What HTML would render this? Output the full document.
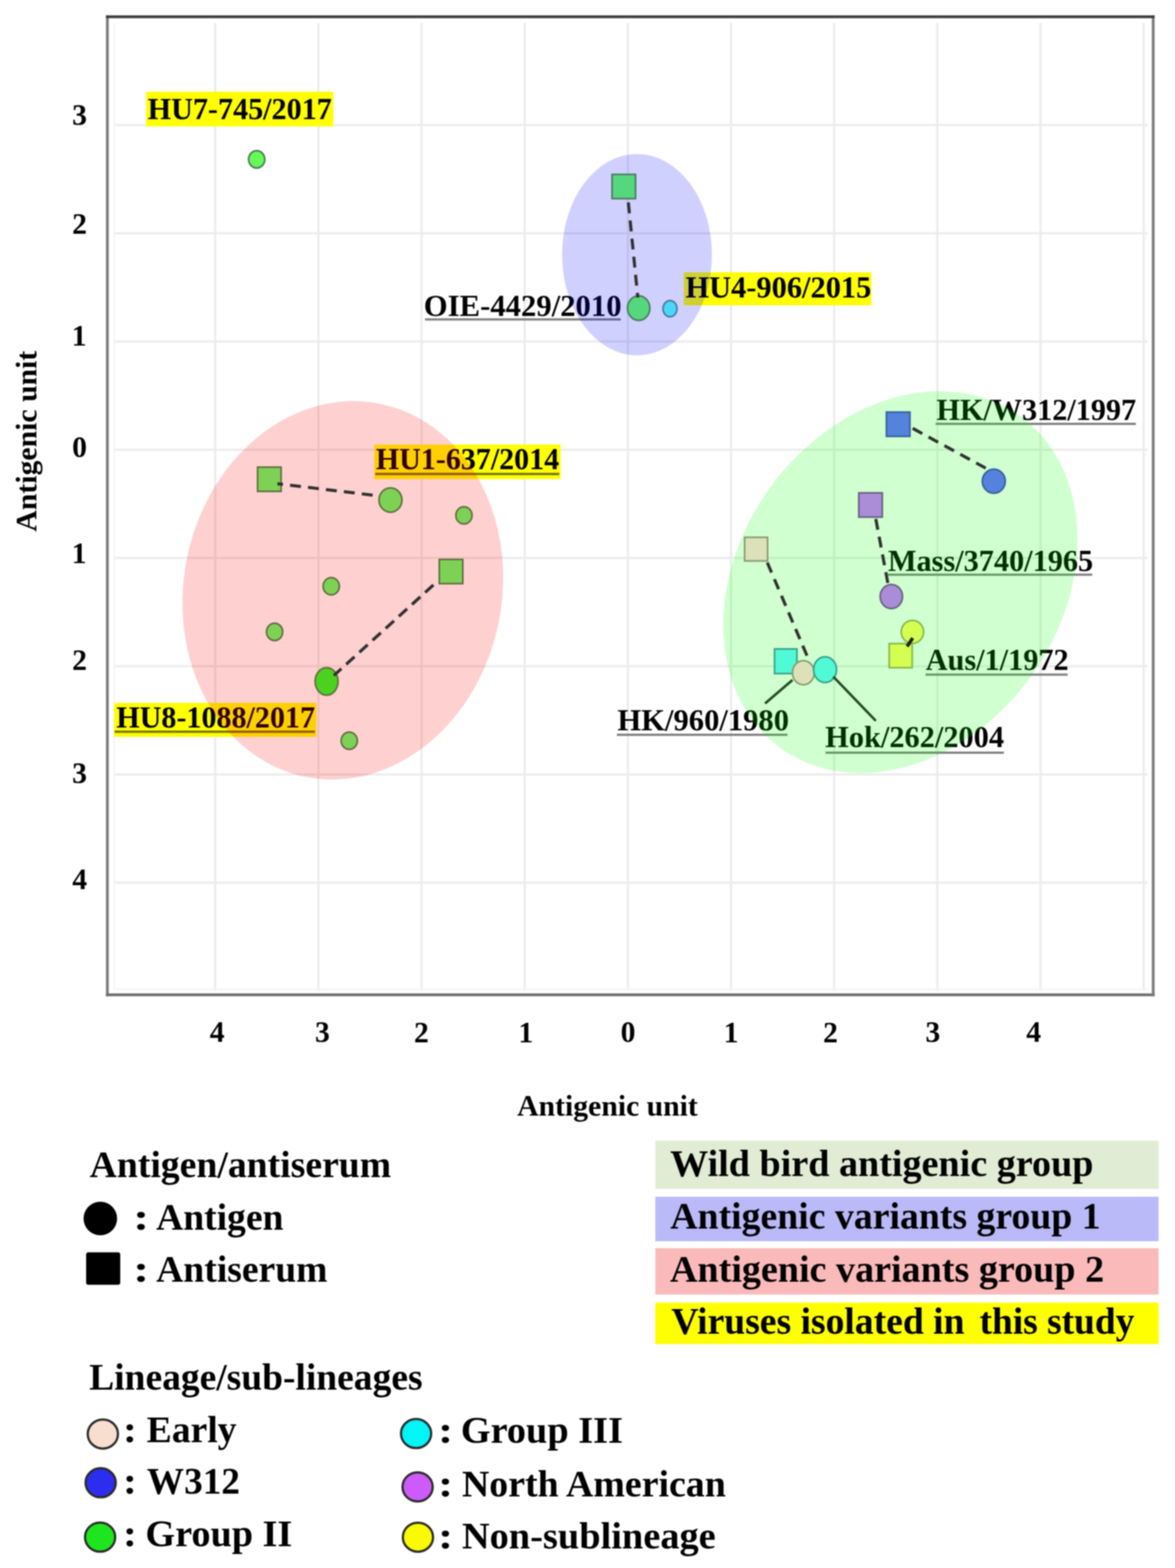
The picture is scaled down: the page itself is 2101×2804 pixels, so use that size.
<!DOCTYPE html>
<html><head><meta charset="utf-8"><title>Antigenic map</title>
<style>
html,body{margin:0;padding:0;background:#fff;}
svg{display:block;filter:blur(1px);}
text{font-family:"Liberation Serif","Times New Roman",serif;font-weight:bold;}
</style></head><body>
<svg width="2101" height="2804" viewBox="0 0 2101 2804">
<rect width="2101" height="2804" fill="#fff"/>
<g stroke="#ececec" stroke-width="4">
<line x1="384.8" y1="41" x2="384.8" y2="1772"/>
<line x1="569.3" y1="41" x2="569.3" y2="1772"/>
<line x1="753.7" y1="41" x2="753.7" y2="1772"/>
<line x1="938.2" y1="41" x2="938.2" y2="1772"/>
<line x1="1122.7" y1="41" x2="1122.7" y2="1772"/>
<line x1="1307.2" y1="41" x2="1307.2" y2="1772"/>
<line x1="1491.6" y1="41" x2="1491.6" y2="1772"/>
<line x1="1676.1" y1="41" x2="1676.1" y2="1772"/>
<line x1="1860.6" y1="41" x2="1860.6" y2="1772"/>
<line x1="2045.0" y1="41" x2="2045.0" y2="1772"/>
<line x1="203" y1="223.7" x2="2052" y2="223.7"/>
<line x1="203" y1="417.2" x2="2052" y2="417.2"/>
<line x1="203" y1="610.8" x2="2052" y2="610.8"/>
<line x1="203" y1="804.3" x2="2052" y2="804.3"/>
<line x1="203" y1="997.8" x2="2052" y2="997.8"/>
<line x1="203" y1="1191.3" x2="2052" y2="1191.3"/>
<line x1="203" y1="1384.9" x2="2052" y2="1384.9"/>
<line x1="203" y1="1578.4" x2="2052" y2="1578.4"/>
</g>
<g stroke="#f5f5f5" stroke-width="3">
<line x1="204.5" y1="41" x2="204.5" y2="1770"/>
<line x1="204" y1="1769" x2="2052" y2="1769"/>
</g>
<g stroke-width="5" fill="none" stroke-linecap="square">
<line x1="192" y1="30" x2="192" y2="1779" stroke="#7a7a7a"/>
<line x1="192" y1="1779" x2="2062" y2="1779" stroke="#6e6e6e"/>
<line x1="2062" y1="30" x2="2062" y2="1779" stroke="#7a7a7a"/>
<line x1="192" y1="30" x2="2062" y2="30" stroke="#3c3c3c"/>
</g>
<text x="129.0" y="223.3" font-size="53">3</text>
<text x="129.1" y="417.5" font-size="53">2</text>
<text x="128.3" y="617.5" font-size="53">1</text>
<text x="129.1" y="817.4" font-size="53">0</text>
<text x="128.3" y="1006.5" font-size="53">1</text>
<text x="129.1" y="1197.5" font-size="53">2</text>
<text x="129.0" y="1400.3" font-size="53">3</text>
<text x="129.2" y="1590.4" font-size="53">4</text>
<text x="375.1" y="1863.4" font-size="53">4</text>
<text x="563.3" y="1863.3" font-size="53">3</text>
<text x="740.3" y="1863.5" font-size="53">2</text>
<text x="927.0" y="1863.5" font-size="53">1</text>
<text x="1109.8" y="1863.4" font-size="53">0</text>
<text x="1294.0" y="1863.5" font-size="53">1</text>
<text x="1471.8" y="1863.5" font-size="53">2</text>
<text x="1654.7" y="1863.3" font-size="53">3</text>
<text x="1834.9" y="1863.4" font-size="53">4</text>
<text x="924.7" y="1995.4" font-size="53.5" textLength="323.1" lengthAdjust="spacingAndGlyphs" fill="#000" >Antigenic unit</text>
<g transform="translate(65.2,950.2) rotate(-90)">
<text x="-0.5" y="0.0" font-size="53.5" textLength="323.5" lengthAdjust="spacingAndGlyphs" fill="#000" >Antigenic unit</text>
</g>
<rect x="261.4" y="164" width="334.6" height="62.0" fill="#ffff00"/>
<text x="264.1" y="213.0" font-size="54" textLength="329.2" lengthAdjust="spacingAndGlyphs" fill="#000" >HU7-745/2017</text>
<rect x="1222.6" y="487" width="335.4" height="59.0" fill="#ffff00"/>
<text x="1225.7" y="532.0" font-size="54" textLength="332.3" lengthAdjust="spacingAndGlyphs" fill="#000" >HU4-906/2015</text>
<rect x="669.3" y="795" width="333.1" height="61.8" fill="#ffff00"/>
<rect x="671" y="845.6" width="329.0" height="4" fill="#707000"/>
<text x="672.1" y="839.2" font-size="54" textLength="327.7" lengthAdjust="spacingAndGlyphs" fill="#000" >HU1-637/2014</text>
<rect x="204" y="1256.9" width="361.4" height="60.8" fill="#ffff00"/>
<rect x="205" y="1306.5" width="358.0" height="4" fill="#707000"/>
<text x="207.9" y="1300.5" font-size="54" textLength="355.4" lengthAdjust="spacingAndGlyphs" fill="#000" >HU8-1088/2017</text>
<rect x="760" y="569.2" width="350.0" height="4" fill="#808080"/>
<text x="757.8" y="565.2" font-size="54" textLength="353.6" lengthAdjust="spacingAndGlyphs" fill="#000" >OIE-4429/2010</text>
<rect x="1673" y="756.0" width="358.0" height="4" fill="#808080"/>
<text x="1674.4" y="750.7" font-size="54" textLength="357.1" lengthAdjust="spacingAndGlyphs" fill="#000" >HK/W312/1997</text>
<rect x="1588" y="1025.7" width="365.0" height="4" fill="#808080"/>
<text x="1587.7" y="1021.0" font-size="54" textLength="367.0" lengthAdjust="spacingAndGlyphs" fill="#000" >Mass/3740/1965</text>
<rect x="1655" y="1204.4" width="254.0" height="4" fill="#808080"/>
<text x="1655.3" y="1197.7" font-size="54" textLength="255.5" lengthAdjust="spacingAndGlyphs" fill="#000" >Aus/1/1972</text>
<rect x="1103" y="1312.0" width="305.0" height="4" fill="#808080"/>
<text x="1104.0" y="1305.7" font-size="54" textLength="306.8" lengthAdjust="spacingAndGlyphs" fill="#000" >HK/960/1980</text>
<rect x="1476" y="1344.0" width="319.0" height="4" fill="#808080"/>
<text x="1475.6" y="1336.3" font-size="54" textLength="319.7" lengthAdjust="spacingAndGlyphs" fill="#000" >Hok/262/2004</text>
<ellipse cx="1139" cy="455.4" rx="134" ry="180" fill="#0000ff" fill-opacity="0.185"/>
<ellipse cx="0" cy="0" rx="340.2" ry="284.6" fill="#ff0000" fill-opacity="0.185" transform="translate(613,1055.7) rotate(-79.1)"/>
<ellipse cx="0" cy="0" rx="366" ry="288" fill="#00ff00" fill-opacity="0.185" transform="translate(1610,1041) rotate(-54.3)"/>
<ellipse cx="459" cy="285" rx="14.5" ry="15.4" fill="#64fa5a" stroke="#4f7a4f" stroke-width="3"/>
<rect x="460.6" y="835.4" width="42" height="43.3" fill="#7dd255" stroke="#5f7040" stroke-width="3"/>
<ellipse cx="698.2" cy="894.2" rx="20.5" ry="21.7" fill="#7dd255" stroke="#5f7040" stroke-width="3"/>
<ellipse cx="829.6" cy="921.7" rx="14.5" ry="15.4" fill="#7dd255" stroke="#5f7040" stroke-width="3"/>
<rect x="785.5" y="1000.4" width="42" height="43.3" fill="#7dd255" stroke="#5f7040" stroke-width="3"/>
<ellipse cx="592.3" cy="1048.4" rx="14.5" ry="15.4" fill="#7dd255" stroke="#5f7040" stroke-width="3"/>
<ellipse cx="491" cy="1130" rx="14.5" ry="15.4" fill="#7dd255" stroke="#5f7040" stroke-width="3"/>
<ellipse cx="584" cy="1218.6" rx="20.5" ry="24.5" fill="#4bd21e" stroke="#5f7040" stroke-width="3"/>
<ellipse cx="624.5" cy="1324.6" rx="14.5" ry="15.4" fill="#7dd255" stroke="#5f7040" stroke-width="3"/>
<rect x="1094.4" y="311.9" width="42" height="43.3" fill="#55d77d" stroke="#4d7a66" stroke-width="3"/>
<ellipse cx="1142" cy="551" rx="20" ry="22.0" fill="#55d77d" stroke="#4d7a66" stroke-width="3"/>
<ellipse cx="1198" cy="552" rx="12.5" ry="14.5" fill="#4bd7fa" stroke="#4a7a9a" stroke-width="3"/>
<rect x="1585.0" y="737.0" width="42" height="43.3" fill="#5582dc" stroke="#3560a0" stroke-width="3"/>
<ellipse cx="1777" cy="860.6" rx="20.5" ry="21.5" fill="#5582dc" stroke="#3560a0" stroke-width="3"/>
<rect x="1535.6" y="881.4" width="42" height="43.3" fill="#aa8cd7" stroke="#6a6280" stroke-width="3"/>
<ellipse cx="1593.8" cy="1066.8" rx="20" ry="21.5" fill="#aa8cd7" stroke="#6a6280" stroke-width="3"/>
<rect x="1331.5" y="960.9" width="41" height="42.2" fill="#dce1b9" stroke="#8a9a70" stroke-width="3"/>
<ellipse cx="1631.5" cy="1130" rx="20" ry="20.5" fill="#d4ff52" stroke="#86b84a" stroke-width="3"/>
<rect x="1590.0" y="1151.0" width="41" height="43.0" fill="#d4ff52" stroke="#86b84a" stroke-width="3"/>
<rect x="1385.0" y="1160.5" width="40" height="44.0" fill="#50fad7" stroke="#3aa088" stroke-width="3"/>
<ellipse cx="1436.5" cy="1203" rx="19.5" ry="21.5" fill="#dce1b9" stroke="#8a9a70" stroke-width="3"/>
<ellipse cx="1475.3" cy="1197.5" rx="20.5" ry="23.0" fill="#50fad7" stroke="#3aa088" stroke-width="3"/>
<line x1="1123.5" y1="362" x2="1140.5" y2="532" stroke="#303030" stroke-width="5.5" stroke-dasharray="19.5,13" stroke-dashoffset="0"/>
<line x1="496" y1="865" x2="671" y2="886" stroke="#303030" stroke-width="5.5" stroke-dasharray="19.5,12.8" stroke-dashoffset="9.5"/>
<line x1="775" y1="1046" x2="597" y2="1208" stroke="#303030" stroke-width="5.5" stroke-dasharray="20,11.8" stroke-dashoffset="0"/>
<line x1="1632" y1="766" x2="1764" y2="838" stroke="#303030" stroke-width="5.5" stroke-dasharray="19.5,12.8" stroke-dashoffset="0"/>
<line x1="1566" y1="928" x2="1588" y2="1045" stroke="#303030" stroke-width="5.5" stroke-dasharray="19.5,12.8" stroke-dashoffset="0"/>
<line x1="1372" y1="1006" x2="1447" y2="1182" stroke="#303030" stroke-width="5.5" stroke-dasharray="19.5,12.8" stroke-dashoffset="0"/>
<line x1="1622" y1="1156" x2="1632" y2="1141" stroke="#202020" stroke-width="6"/>
<line x1="1368" y1="1258" x2="1417" y2="1216" stroke="#234a23" stroke-width="4.5"/>
<line x1="1566" y1="1289" x2="1490" y2="1210" stroke="#234a23" stroke-width="4.5"/>
<text x="160.3" y="2104.8" font-size="67" textLength="539.1" lengthAdjust="spacingAndGlyphs" fill="#000" >Antigen/antiserum</text>
<circle cx="179.4" cy="2179" r="30" fill="#000"/>
<text x="237.9" y="2199.3" font-size="67" textLength="28.8" lengthAdjust="spacingAndGlyphs" fill="#000" >:</text>
<text x="279.3" y="2199.3" font-size="67" textLength="227.5" lengthAdjust="spacingAndGlyphs" fill="#000" >Antigen</text>
<rect x="154" y="2239.5" width="61" height="58" rx="4" fill="#000"/>
<text x="237.9" y="2292.0" font-size="67" textLength="28.8" lengthAdjust="spacingAndGlyphs" fill="#000" >:</text>
<text x="279.3" y="2292.0" font-size="67" textLength="306.3" lengthAdjust="spacingAndGlyphs" fill="#000" >Antiserum</text>
<rect x="1171.8" y="2039.7" width="899.9" height="86.3" fill="#e0ecd4"/>
<rect x="1171.8" y="2140" width="899.9" height="79.6" fill="#babaf9"/>
<rect x="1171.8" y="2232" width="899.9" height="83.0" fill="#fbbaba"/>
<rect x="1171.8" y="2329.5" width="899.9" height="74.0" fill="#ffff00"/>
<text x="1198.3" y="2102.8" font-size="67" textLength="757.0" lengthAdjust="spacingAndGlyphs" fill="#000" >Wild bird antigenic group</text>
<text x="1198.6" y="2197.0" font-size="67" textLength="769.4" lengthAdjust="spacingAndGlyphs" fill="#000" >Antigenic variants group 1</text>
<text x="1197.9" y="2291.7" font-size="67" textLength="776.3" lengthAdjust="spacingAndGlyphs" fill="#000" >Antigenic variants group 2</text>
<text x="1200.4" y="2384.6" font-size="67" textLength="524.3" lengthAdjust="spacingAndGlyphs" fill="#000" >Viruses isolated in</text>
<text x="1751.5" y="2384.6" font-size="67" textLength="276.9" lengthAdjust="spacingAndGlyphs" fill="#000" >this study</text>
<text x="159.5" y="2485.0" font-size="67" textLength="596.0" lengthAdjust="spacingAndGlyphs" fill="#000" >Lineage/sub-lineages</text>
<ellipse cx="183.9" cy="2564.4" rx="27" ry="26" fill="#f8dece" stroke="#2a2a2a" stroke-width="4"/>
<ellipse cx="180" cy="2651.6" rx="27" ry="26" fill="#2d2df0" stroke="#2a2a2a" stroke-width="4"/>
<ellipse cx="179" cy="2748.8" rx="27" ry="26" fill="#1ee61e" stroke="#2a2a2a" stroke-width="4"/>
<ellipse cx="744" cy="2563.6" rx="27" ry="26" fill="#00f5f5" stroke="#2a2a2a" stroke-width="4"/>
<ellipse cx="746.7" cy="2659" rx="27" ry="26" fill="#cd5afa" stroke="#2a2a2a" stroke-width="4"/>
<ellipse cx="747.3" cy="2748.9" rx="27" ry="26" fill="#fafa00" stroke="#2a2a2a" stroke-width="4"/>
<text x="219.9" y="2579.0" font-size="67" textLength="24.7" lengthAdjust="spacingAndGlyphs" fill="#000" >:</text>
<text x="262.3" y="2579.0" font-size="67" textLength="160.7" lengthAdjust="spacingAndGlyphs" fill="#000" >Early</text>
<text x="219.9" y="2671.3" font-size="67" textLength="24.7" lengthAdjust="spacingAndGlyphs" fill="#000" >:</text>
<text x="262.5" y="2671.3" font-size="67" textLength="166.6" lengthAdjust="spacingAndGlyphs" fill="#000" >W312</text>
<text x="219.9" y="2765.4" font-size="67" textLength="24.7" lengthAdjust="spacingAndGlyphs" fill="#000" >:</text>
<text x="260.1" y="2765.4" font-size="67" textLength="262.5" lengthAdjust="spacingAndGlyphs" fill="#000" >Group II</text>
<text x="783.2" y="2580.4" font-size="67" textLength="27.0" lengthAdjust="spacingAndGlyphs" fill="#000" >:</text>
<text x="823.9" y="2580.4" font-size="67" textLength="290.0" lengthAdjust="spacingAndGlyphs" fill="#000" >Group III</text>
<text x="783.2" y="2675.9" font-size="67" textLength="27.0" lengthAdjust="spacingAndGlyphs" fill="#000" >:</text>
<text x="825.9" y="2675.9" font-size="67" textLength="471.9" lengthAdjust="spacingAndGlyphs" fill="#000" >North American</text>
<text x="783.2" y="2769.4" font-size="67" textLength="27.0" lengthAdjust="spacingAndGlyphs" fill="#000" >:</text>
<text x="825.9" y="2769.4" font-size="67" textLength="453.9" lengthAdjust="spacingAndGlyphs" fill="#000" >Non-sublineage</text>
</svg>
</body></html>
